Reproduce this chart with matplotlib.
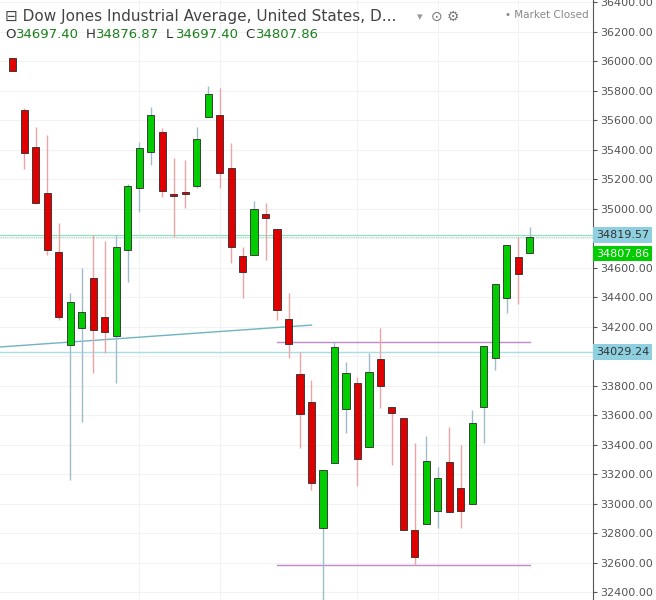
import matplotlib
matplotlib.use("Agg")
import matplotlib.pyplot as plt
import numpy as np

# daily OHLC (index 0 is clipped at the left edge)
opens  = [36020, 35668, 35417, 35105, 34705, 34075, 34190, 34529, 34264, 34136,
          34719, 35139, 35383, 35519, 35098, 35112, 35153, 35620, 35634, 35275,
          34678, 34685, 34963, 34861, 34251, 33878, 33688, 32834, 33275, 33641,
          33817, 33383, 33980, 33654, 33580, 32820, 32861, 32949, 33281, 33105,
          32996, 33654, 33986, 34393, 34671, 34697.40]
highs  = [36020, 35680, 35553, 35498, 34902, 34427, 34597, 34820, 34780, 34820,
          35166, 35451, 35688, 35546, 35342, 35329, 35553, 35830, 35817, 35444,
          34739, 35051, 35037, 34861, 34427, 34027, 33837, 33173, 34095, 33959,
          33858, 34020, 34190, 33654, 33580, 33410, 33458, 33247, 33519, 33397,
          33634, 34068, 34488, 34753, 34807, 34876.87]
lows   = [35932, 35268, 35037, 34685, 34244, 33159, 33552, 33885, 34020, 33817,
          34502, 34976, 35295, 35078, 34807, 35003, 35139, 35620, 35139, 34631,
          34393, 34685, 34651, 34244, 33986, 33376, 33091, 32346, 33275, 33478,
          33119, 33383, 33647, 33261, 32820, 32583, 32861, 32834, 32942, 32834,
          32996, 33410, 33905, 34291, 34353, 34697.40]
closes = [35932, 35376, 35037, 34719, 34264, 34366, 34298, 34176, 34163, 34739,
          35153, 35410, 35634, 35119, 35085, 35098, 35471, 35776, 35241, 34739,
          34569, 34997, 34936, 34312, 34081, 33607, 33139, 33227, 34061, 33885,
          33302, 33891, 33797, 33614, 32820, 32637, 33288, 33173, 32942, 32949,
          33546, 34068, 34488, 34753, 34556, 34807.86]

level_hi = 34819.57
level_lo = 34029.24
trend = ([-1.2, 26.0], [34061, 34210])
support_top = ([23.0, 45.0], [34095, 34095])
support_bot = ([23.0, 45.0], [32583, 32583])
vgrid = [11, 18, 30, 37, 44]
yticks = np.arange(32400, 36401, 200)
hidden_ticks = [34800, 34000]   # covered by the price tags

RED, GREEN = "#e00000", "#00cc00"

fig = plt.figure(figsize=(6.56, 6.0), dpi=100)
ax = fig.add_axes([0, 0, 593 / 656, 1])
ax.set_xlim(-1.11, 50.5)
ax.set_ylim(32346, 36414)

for y in yticks:
    ax.axhline(y, color="#f0f2f4", lw=0.8, zorder=0)
for x in vgrid:
    ax.axvline(x, color="#f0f2f4", lw=0.8, zorder=0)

for i, (o, h, l, c) in enumerate(zip(opens, highs, lows, closes)):
    up = c >= o
    ax.vlines(i, l, h, color="#9fbccb" if up else "#eba5a5", lw=1, zorder=2)
    lo, hi = min(o, c), max(o, c)
    ax.bar(i, max(hi - lo, 12), bottom=lo, width=0.62,
           color=GREEN if up else RED, edgecolor="#2a2a2a", linewidth=0.6, zorder=3)

ax.axhline(level_hi, color="#8fe0b8", lw=0.8, zorder=1)
ax.axhline(level_hi - 12, color="#8fe0b8", lw=0.8, zorder=1, ls=(0, (1, 1)))
ax.axhline(level_lo, color="#a8dde6", lw=1.0, zorder=1)
ax.plot(*trend, color="#6fb5bf", lw=1.0, zorder=1)
ax.plot(*support_top, color="#c08ac8", lw=1.0, zorder=1)
ax.plot(*support_bot, color="#c08ac8", lw=1.0, zorder=1)

for s in ["top", "left", "bottom"]:
    ax.spines[s].set_visible(False)
ax.spines["right"].set_color("#555555")
ax.set_xticks([])
ax.yaxis.tick_right()
ax.set_yticks(yticks)
ax.set_yticklabels(["" if v in hidden_ticks else f"{v:.2f}" for v in yticks],
                   fontsize=8, color="#555555")
ax.tick_params(axis="y", length=3, color="#555555", pad=2)

# price tags on the right scale
for val, dy, bg, fc in [(level_hi, 0, "#8ecfe0", "#333333"),
                        (closes[-1], -12, "#00cc00", "white"),
                        (level_lo, 0, "#8ecfe0", "#333333")]:
    ax.annotate(f"{val:.2f}", xy=(1.0, val), xycoords=("axes fraction", "data"),
                xytext=(2, dy), textcoords="offset points", va="center", ha="left",
                fontsize=8, color=fc, annotation_clip=False,
                bbox=dict(boxstyle="square,pad=0.25", fc=bg, ec="none"))

# header
fig.text(0.008, 0.972, "⊟ Dow Jones Industrial Average, United States, D...",
         fontsize=11, color="#444444", va="center")
fig.text(0.635, 0.972, "▾", fontsize=8, color="#999999", va="center")
fig.text(0.657, 0.972, "⊙ ⚙", fontsize=10, color="#777777", va="center")
fig.text(0.77, 0.975, "• Market Closed", fontsize=7.5, color="#888888", va="center")
x0 = 0.008
for lab, val in [("O", "34697.40"), ("H", "34876.87"), ("L", "34697.40"), ("C", "34807.86")]:
    fig.text(x0, 0.942, lab, fontsize=9.5, color="#333333", va="center")
    fig.text(x0 + 0.016, 0.942, val, fontsize=9.5, color="#1a7f1a", va="center")
    x0 += 0.122

fig.savefig("out.png", dpi=100)
